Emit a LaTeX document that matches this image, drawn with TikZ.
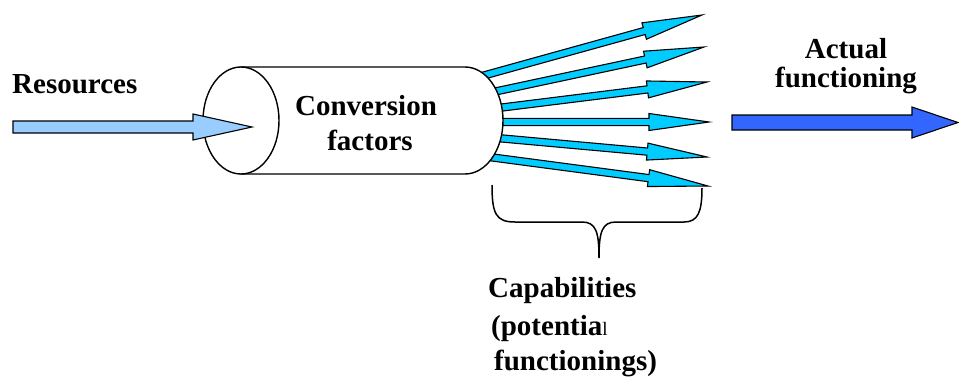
\documentclass[tikz,border=0pt]{standalone}
\usepackage{fontspec}
\setmainfont{Liberation Serif}
\usetikzlibrary{calc}

\definecolor{resblue}{RGB}{153,204,255}
\definecolor{capcyan}{RGB}{0,204,255}
\definecolor{funblue}{RGB}{51,102,255}

% Block arrow as a polygon: #1 tail, #2 tip, #3 half shaft width,
% #4 half head width, #5 head length, #6 draw options
\newcommand{\blockarrow}[6]{%
  \coordinate (ba-h) at ($(#2)!#5!(#1)$);
  \draw[#6] ($(#1)!#3!90:(#2)$) -- ($(ba-h)!#3!90:(#2)$)
    -- ($(ba-h)!#4!90:(#2)$) -- (#2) -- ($(ba-h)!#4!-90:(#2)$)
    -- ($(ba-h)!#3!-90:(#2)$) -- ($(#1)!#3!-90:(#2)$) -- cycle;
}

\begin{document}
\begin{tikzpicture}[x=1pt,y=-1pt,
  label/.style={font=\bfseries\fontsize{29}{34}\selectfont, inner sep=0pt},
  arrowline/.style={draw=black, line width=1.1pt, line join=miter},
  outline/.style={draw=black, line width=1.4pt}]
\useasboundingbox (0,0) rectangle (959,386);

% fan of capability arrows leaving the cylinder
\coordinate (t1) at (482,76);   \coordinate (p1) at (702,15);
\coordinate (t2) at (493,92);   \coordinate (p2) at (704,47);
\coordinate (t3) at (498,108);  \coordinate (p3) at (707,82);
\coordinate (t4) at (499,122);  \coordinate (p4) at (709,122);
\coordinate (t5) at (497,138);  \coordinate (p5) at (707,157);
\coordinate (t6) at (489,157);  \coordinate (p6) at (708,186);
\foreach \i in {1,...,6}{
  \blockarrow{t\i}{p\i}{3.6pt}{8.5pt}{60pt}{arrowline, fill=capcyan}
}

% cylinder of conversion factors
\draw[outline, fill=white] (241,67) -- (465,67)
  arc[start angle=-90, end angle=90, x radius=38, y radius=53.5]
  -- (241,174) -- cycle;
\draw[outline, fill=white] (241,120.5) ellipse[x radius=38, y radius=53.5];
\node[label, anchor=base] (conv1) at (366,115) {Conversion};
\node[label, anchor=base] (conv2) at (370,150) {factors};

% resources input
\node[label, anchor=base west] (res) at (12,93) {Resources};
\coordinate (rtail) at (13,127);
\coordinate (rtip) at (252,127);
\blockarrow{rtail}{rtip}{6pt}{13pt}{59pt}{arrowline, fill=resblue}

% actual functioning output
\node[label, anchor=base] (act1) at (846,58) {Actual};
\node[label, anchor=base] (act2) at (846,87) {functioning};
\coordinate (ftail) at (732,122.5);
\coordinate (ftip) at (958,122.5);
\blockarrow{ftail}{ftip}{7.5pt}{15.5pt}{46pt}{arrowline, fill=funblue}

% brace under the capabilities
\coordinate (bl) at (492,185);
\coordinate (bm) at (599,258);
\coordinate (br) at (702,188);
\draw[outline, line width=1.5pt] (bl) .. controls (492,214) and (496,222) .. (515,222)
  -- (582,222) .. controls (596,222) and (599,232) .. (bm)
  .. controls (599,232) and (602,222) .. (616,222)
  -- (684,222) .. controls (698,222) and (702,212) .. (br);

\node[label, anchor=base west] (cap1) at (488,297) {Capabilities};
\node[label, anchor=base west] (cap2) at (491,335)
  {(potentia{\mdseries\fontsize{19}{19}\selectfont l}};
\node[label, anchor=base west] (cap3) at (494,370) {functionings)};
\end{tikzpicture}
\end{document}
